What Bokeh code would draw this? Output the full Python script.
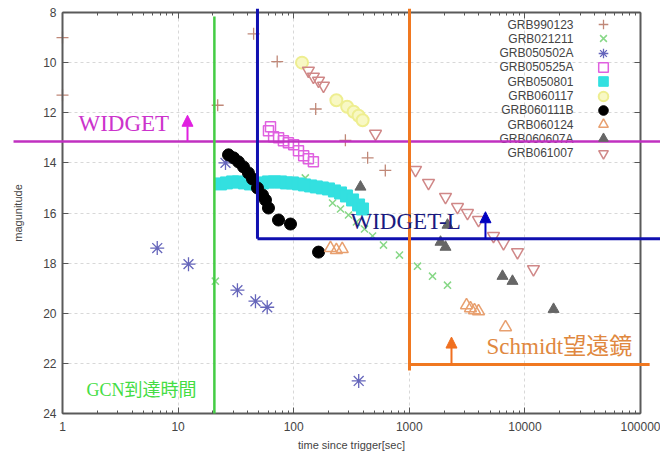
from bokeh.plotting import figure
from bokeh.models import (Range1d, LinearAxis, LogAxis, Arrow, NormalHead, Label, Legend,
                          LegendItem, FixedTicker, BasicTickFormatter, CustomJSTickFormatter, Grid)
from bokeh.embed import file_html
from bokeh.resources import INLINE

# ---------------- data (time since trigger [s], magnitude) ----------------
names = ["GRB990123", "GRB021211", "GRB050502A", "GRB050525A", "GRB050801",
         "GRB060117", "GRB060111B", "GRB060124", "GRB060607A", "GRB061007"]

t_990123 = [1.0, 1.0, 22, 45, 72, 155, 280, 436, 620]
m_990123 = [9.0, 11.3, 11.7, 8.85, 9.96, 11.85, 13.1, 13.8, 14.3]

t_021211 = [21, 126, 217, 254, 298, 349, 410, 481, 598, 822, 1178, 1588, 2140]
m_021211 = [18.72, 14.6, 15.6, 15.84, 16.08, 16.36, 16.64, 16.92, 17.28, 17.68, 18.12, 18.52, 18.88]

t_050502A = [6.6, 12.3, 25.7, 32.6, 46.7, 59, 365]
m_050502A = [17.4, 18.04, 14.0, 19.08, 19.52, 19.76, 22.7]

t_050525A = [60.5, 63, 67, 74, 81.5, 90, 100, 110, 122, 134, 148]
m_050525A = [12.72, 12.56, 12.96, 13.0, 13.12, 13.2, 13.28, 13.52, 13.72, 13.84, 13.96]

t_050801 = [23.3, 26.2, 29.6, 33.3, 37.5, 42.3, 47.7, 53.7, 60.5, 68.2, 76.9, 86.6, 97.6,
            110, 124, 140, 157, 177, 200, 225, 254, 286, 323, 364, 394]
m_050801 = [14.84, 14.80, 14.76, 14.76, 14.80, 14.84, 14.84, 14.80, 14.76, 14.76, 14.76, 14.80,
            14.80, 14.84, 14.88, 14.92, 14.96, 15.0, 15.04, 15.12, 15.2, 15.32, 15.48, 15.68, 15.84]

t_060117 = [118, 234, 290, 330, 364, 395]
m_060117 = [10.0, 11.5, 11.76, 11.96, 12.12, 12.3]

t_060111B = [27.3, 30.2, 33.3, 36.8, 40.6, 44.0, 48.6, 53.7, 57.0, 60.5, 73.9, 93.8, 164]
m_060111B = [13.68, 13.8, 13.96, 14.16, 14.4, 14.64, 15.0, 15.28, 15.48, 15.8, 16.28, 16.44, 17.56]

t_060124 = [208, 234, 263, 3126, 3383, 3664, 3970, 6800]
m_060124 = [17.4, 17.48, 17.44, 19.68, 19.8, 19.88, 19.92, 20.56]

t_060607A = [378, 1862, 2057, 2140, 6400, 7810, 17700]
m_060607A = [14.96, 17.16, 17.36, 16.48, 18.52, 18.72, 19.84]

t_061007 = [134, 148, 164, 181, 510, 1132, 1466, 2057, 2612, 3187, 3970, 5350, 6530, 8630, 11860]
m_061007 = [10.32, 10.56, 10.72, 10.92, 12.84, 14.28, 14.8, 15.36, 15.76, 16.0, 16.28, 16.92,
            17.2, 17.56, 18.24]

x_ticks = [1, 10, 100, 1000, 10000, 100000]
y_ticks = [8, 10, 12, 14, 16, 18, 20, 22, 24]

# ---------------- geometry: the drawing area covers the whole canvas so that the
# annotation lines can run past the axes box, as in the original ----------------
W, H = 660, 454
BOX_L, BOX_R, BOX_T, BOX_B = 62, 640, 12, 413
XMIN, XMAX, YMIN, YMAX = 1, 100000, 8, 24
DEC = (BOX_R - BOX_L) / 5.0            # px per decade
MPX = (BOX_B - BOX_T) / 16.0           # px per magnitude
x_lo = 10 ** (-BOX_L / DEC)
x_hi = 10 ** (5 + (W - BOX_R) / DEC)
y_top = YMIN - BOX_T / MPX
y_bot = YMAX + (H - BOX_B) / MPX

p = figure(width=W, height=H, x_axis_type="log",
           x_range=Range1d(x_lo, x_hi), y_range=Range1d(y_bot, y_top),
           output_backend="svg", toolbar_location=None,
           min_border=0, min_border_left=0, min_border_right=0, min_border_top=0,
           min_border_bottom=0, background_fill_color="white", border_fill_color="white")
p.outline_line_color = None

x_minor = [d * k for d in x_ticks[:-1] for k in range(2, 10)]
xticker = FixedTicker(ticks=x_ticks, minor_ticks=x_minor)
yticker = FixedTicker(ticks=y_ticks)

TICK_FONT = "Liberation Sans"
blank = CustomJSTickFormatter(code="return ''")


def style_axis(ax, show_labels=True):
    is_x = isinstance(ax, LogAxis)
    ax.ticker = xticker if is_x else yticker
    ax.bounds = (XMIN, XMAX) if is_x else (YMIN, YMAX)
    ax.major_tick_in = 6
    ax.major_tick_out = 0
    ax.minor_tick_in = 3
    ax.minor_tick_out = 0
    ax.major_tick_line_color = "#555555"
    ax.minor_tick_line_color = "#555555"
    ax.axis_line_color = "#5a5a5a"
    ax.axis_line_width = 2
    ax.major_label_text_font = TICK_FONT
    ax.major_label_text_color = "#444444"
    ax.major_label_text_font_size = "12px"
    if not show_labels:
        ax.formatter = blank
        ax.major_label_standoff = 0


xa = p.xaxis[0]
ya = p.yaxis[0]
style_axis(xa)
style_axis(ya)
xa.fixed_location = YMAX
ya.fixed_location = XMIN
xa.formatter = BasicTickFormatter(use_scientific=False)
xa.major_label_standoff = 8
xa.axis_label = "time since trigger[sec]"
xa.axis_label_standoff = 5
ya.major_label_standoff = 6
ya.axis_label = "magunitude"
ya.axis_label_standoff = 16
for ax in (xa, ya):
    ax.axis_label_text_font = TICK_FONT
    ax.axis_label_text_font_size = "11px"
    ax.axis_label_text_font_style = "normal"
    ax.axis_label_text_color = "#444444"

top = LogAxis(fixed_location=YMIN)
style_axis(top, False)
p.add_layout(top, "above")
right = LinearAxis(fixed_location=XMAX)
style_axis(right, False)
p.add_layout(right, "right")

p.xgrid.ticker = xticker
p.ygrid.ticker = yticker
p.xgrid.bounds = (XMIN, XMAX)
p.ygrid.bounds = (YMIN, YMAX)
has_cross = "cross_bounds" in Grid.properties()
if has_cross:
    p.xgrid.cross_bounds = (YMIN, YMAX)
    p.ygrid.cross_bounds = (XMIN, XMAX)
    for g in (p.xgrid, p.ygrid):
        g.grid_line_color = "#c8c8c8"
        g.grid_line_dash = "3 3"
        g.grid_line_alpha = 0.7
else:
    p.xgrid.visible = False
    p.ygrid.visible = False
    gx = x_ticks[1:-1]
    gy = y_ticks[1:-1]
    p.segment(x0=gx, y0=[YMIN] * len(gx), x1=gx, y1=[YMAX] * len(gx),
              line_color="#c8c8c8", line_dash="3 3", line_alpha=0.7)
    p.segment(x0=[XMIN] * len(gy), y0=gy, x1=[XMAX] * len(gy), y1=gy,
              line_color="#c8c8c8", line_dash="3 3", line_alpha=0.7)

# ---------------- series ----------------
r = []
r.append(p.scatter(t_990123, m_990123, marker="cross", size=12, line_color="#c08878", line_width=1.3))
r.append(p.scatter(t_021211, m_021211, marker="x", size=10, line_color="#88d888", line_width=1.5))
r.append(p.scatter(t_050502A, m_050502A, marker="asterisk", size=14, line_color="#6666bb", line_width=1.3))
r.append(p.scatter(t_050525A, m_050525A, marker="square", size=10, fill_color=None,
                   line_color="#e060e0", line_width=1.5))
r.append(p.scatter(t_050801, m_050801, marker="square", size=12, fill_color="#33e0e0",
                   line_color="#33e0e0"))
r.append(p.scatter(t_060117, m_060117, marker="circle", size=12, fill_color="#f8f8c4",
                   line_color="#eeee90", line_width=2))
r.append(p.scatter(t_060111B, m_060111B, marker="circle", size=12, fill_color="black",
                   line_color="black"))
r.append(p.scatter(t_060124, m_060124, marker="triangle", size=12, fill_color=None,
                   line_color="#e8a070", line_width=1.5))
r.append(p.scatter(t_060607A, m_060607A, marker="triangle", size=11, fill_color="#666666",
                   line_color="#666666"))
r.append(p.scatter(t_061007, m_061007, marker="inverted_triangle", size=12, fill_color=None,
                   line_color="#d08888", line_width=1.5))

# legend: gnuplot style, names right-aligned to the left of the key symbols
ROW0 = H - 24      # first row centre, px above the canvas bottom
PITCH = 14.3
for i, (name, rr) in enumerate(zip(names, r)):
    yc = ROW0 - PITCH * i
    p.add_layout(Legend(items=[LegendItem(label="", renderers=[rr])],
                        location=(591, int(round(yc - 12))), glyph_width=24, glyph_height=24,
                        padding=0, margin=0, spacing=0, label_standoff=0,
                        label_text_font_size="12px",
                        background_fill_alpha=0, border_line_alpha=0))
    p.add_layout(Label(x=573, y=yc, x_units="screen", y_units="screen", text=name,
                       text_align="right", text_baseline="middle", text_font=TICK_FONT,
                       text_font_size="12px", text_color="#444444"))


# ---------------- annotation lines ----------------
def seg(x0, y0, x1, y1, color, w, head_color=None):
    end = NormalHead(size=11, fill_color=head_color, line_color=head_color) if head_color else None
    p.add_layout(Arrow(end=end, x_start=x0, y_start=y0, x_end=x1, y_end=y1,
                       line_color=head_color or color, line_width=w))


# WIDGET
seg(0.377, 13.15, 150000, 13.15, "#c030c0", 2.5)
seg(12.06, 13.15, 12.06, 12.1, None, 2, "#e020e0")
# GCN
seg(20.6, 8.16, 20.6, 24.0, "#44cc44", 2.5)
# WIDGET-L
seg(48.6, 7.85, 48.6, 17.03, "#1010b0", 3)
seg(48.6, 17.03, 150000, 17.03, "#1010b0", 3)
seg(4560, 17.03, 4560, 15.95, None, 2, "#0000c0")
# Schmidt
seg(1004, 7.85, 1004, 22.28, "#f07820", 3)
seg(1004, 22.04, 120000, 22.04, "#f07820", 3)
seg(2317, 22.04, 2317, 20.95, None, 2, "#f07020")

SERIF = "'Liberation Serif', 'Noto Sans CJK JP'"
p.add_layout(Label(x=1.375, y=12.44, text="WIDGET", text_font=SERIF, text_font_size="23px",
                   text_color="#cc33cc", text_baseline="alphabetic"))
p.add_layout(Label(x=310, y=16.32, text="WIDGET-L", text_font=SERIF, text_font_size="23px",
                   text_color="#1a1a80", text_baseline="alphabetic"))
p.add_layout(Label(x=4655, y=21.32, text="Schmidt望遠鏡", text_font=SERIF, text_font_size="23px",
                   text_color="#e08840", text_baseline="alphabetic"))
p.add_layout(Label(x=1.61, y=23.08, text="GCN到達時間", text_font=SERIF, text_font_size="18px",
                   text_color="#44dd44", text_baseline="alphabetic"))

open("out.html", "w").write(file_html(p, INLINE))
